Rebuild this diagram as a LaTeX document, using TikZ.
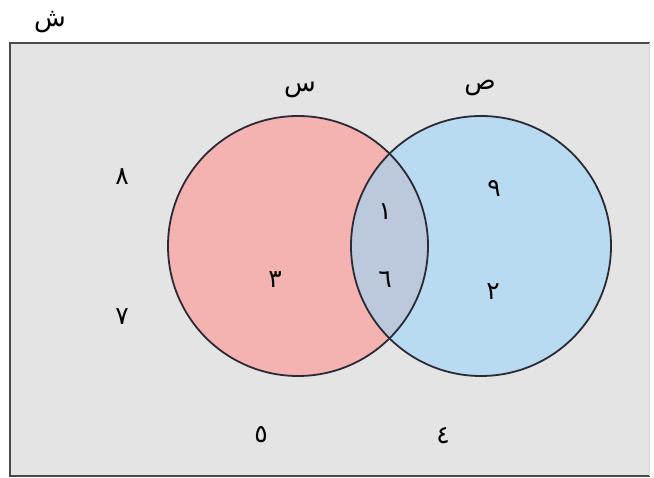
\documentclass[tikz,border=0pt]{standalone}
\usepackage{fontspec}
\newfontfamily\arabicfont[Script=Arabic]{DejaVu Sans}
\TeXXeTstate=1
\definecolor{bgc}{HTML}{E4E4E4}
\definecolor{pinkc}{HTML}{F4B3B1}
\definecolor{bluec}{HTML}{B9DBF1}
\definecolor{midc}{HTML}{BCC9DD}
\definecolor{edgec}{HTML}{2B2B36}
\definecolor{framec}{HTML}{4A4A4A}
\begin{document}
\begin{tikzpicture}[x=1pt,y=-1pt,
  lbl/.style={font=\arabicfont\fontsize{26}{30}\selectfont, text=black, inner sep=0pt},
  num/.style={font=\arabicfont\fontsize{25}{30}\selectfont, text=black, inner sep=0pt},
  ring/.style={draw=edgec, line width=1.8pt}]
\useasboundingbox (0,0) rectangle (654,478);
% universal set
\fill[bgc] (10,43) rectangle (650,476);
\draw[framec, line width=2.8pt] (650,43) -- (10,43) -- (10,476) -- (650,476);
\draw[black!15, line width=1pt] (649,43) -- (649,476);
% circles
\coordinate (cs) at (298,246);
\coordinate (cp) at (481,246);
\fill[pinkc] (cs) circle[radius=130];
\fill[bluec] (cp) circle[radius=130];
\begin{scope}
  \clip (cs) circle[radius=130];
  \fill[midc] (cp) circle[radius=130];
\end{scope}
\draw[ring] (cs) circle[radius=130];
\draw[ring] (cp) circle[radius=130];
% labels
\node[lbl] (lU) at (50,22) {\beginR ش\endR};
\node[lbl] (lS) at (300,90) {\beginR س\endR};
\node[lbl] (lP) at (480,88) {\beginR ص\endR};
% numbers
\node[num] (n8) at (122,177) {٨};
\node[num] (n7) at (122,317) {٧};
\node[num] (n3) at (275,280) {٣};
\node[num] (n1) at (385,212) {١};
\node[num] (n6) at (385,280) {٦};
\node[num] (n9) at (494,189) {٩};
\node[num] (n2) at (493,292) {٢};
\node[num] (n5) at (261,435) {٥};
\node[num] (n4) at (443,436) {٤};
\end{tikzpicture}
\end{document}
